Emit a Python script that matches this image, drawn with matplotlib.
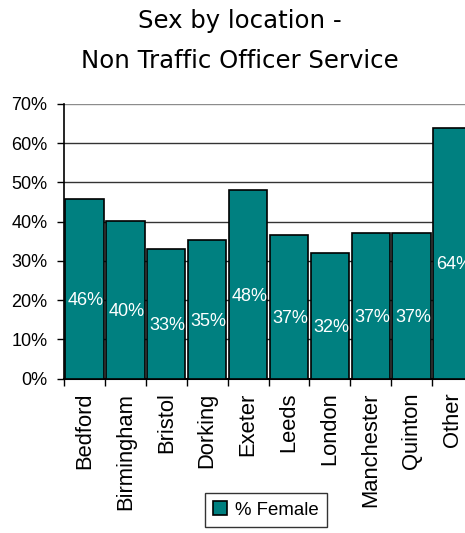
import matplotlib
matplotlib.use("Agg")
import matplotlib.pyplot as plt
import numpy as np
from matplotlib.ticker import FixedLocator

locations = ["Bedford", "Birmingham", "Bristol", "Dorking", "Exeter",
             "Leeds", "London", "Manchester", "Quinton", "Other"]
pct_female = [45.8, 40.3, 33.0, 35.4, 48.1, 36.7, 32.1, 37.1, 37.1, 64.0]

TEAL = "#008080"
SANS = "Liberation Sans"

fig = plt.figure(figsize=(4.65, 5.33), dpi=100)
# axes runs past the right edge, like the cropped original
ax = fig.add_axes([64 / 465, 154.3 / 533, 409 / 465, 274.7 / 533])

x = np.arange(len(locations))
ax.bar(x, pct_female, width=0.94, color=TEAL, edgecolor="black",
       linewidth=1.2, zorder=3, label="% Female")

# value labels, white, inside the bars
for xi, v in zip(x, pct_female):
    ax.text(xi + 0.03, v / 2 - 3, f"{v:.0f}%", color="white", ha="center",
            va="center", fontsize=13, family=SANS, zorder=4)

ax.set_xlim(-0.5, len(locations) - 0.5)
ax.set_ylim(0, 70)
ax.set_yticks(np.arange(0, 71, 10))
ax.set_yticklabels([f"{t}%" for t in range(0, 71, 10)], family=SANS, fontsize=13)
ax.tick_params(axis="y", length=5, width=1, pad=7, colors="black")

ax.set_xticks(x)
ax.set_xticklabels(locations, rotation=90, family=SANS, fontsize=15.8, va="top")
ax.tick_params(axis="x", which="major", length=0, pad=10)
ax.xaxis.set_minor_locator(FixedLocator(np.arange(-0.5, len(locations), 1.0)))
ax.tick_params(axis="x", which="minor", length=5, width=1, color="black")

ax.yaxis.grid(True, color="0.2", linewidth=1, zorder=0)
ax.get_ygridlines()[-1].set_color("0.55")
ax.set_axisbelow(True)
for s in ("top", "right"):
    ax.spines[s].set_visible(False)
ax.spines["left"].set_linewidth(1.2)
ax.spines["bottom"].set_linewidth(1.5)

fig.text(240 / 465, 1 - 21 / 533, "Sex by location -", ha="center", va="center",
         fontsize=17.6, family="DejaVu Sans")
fig.text(240 / 465, 1 - 61 / 533, "Non Traffic Officer Service", ha="center",
         va="center", fontsize=17.6, family="DejaVu Sans")

leg = fig.legend(loc="center", bbox_to_anchor=(266 / 465, 1 - 510 / 533),
                 prop={"family": SANS, "size": 13.4}, frameon=True, fancybox=False,
                 edgecolor="black", handlelength=0.75, handleheight=0.75,
                 handletextpad=0.45, borderpad=0.45, borderaxespad=0)
leg.get_frame().set_linewidth(1)

fig.savefig("out.png", dpi=100, facecolor="white")
